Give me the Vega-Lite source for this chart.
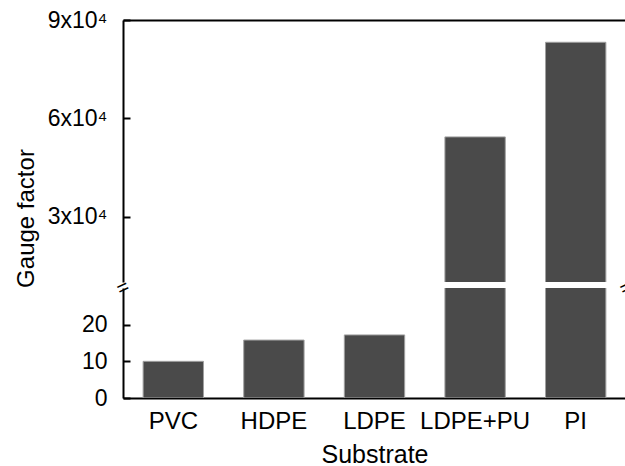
{
  "$schema": "https://vega.github.io/schema/vega-lite/v6.json",
  "padding": {"left": 14, "top": 9, "right": 0, "bottom": 0},
  "bounds": "flush",
  "spacing": 6,
  "config": {
    "font": "Liberation Sans",
    "view": {"stroke": null},
    "axis": {
      "domainColor": "black", "domainWidth": 2,
      "tickColor": "black", "tickWidth": 2,
      "labelColor": "black", "titleColor": "black",
      "labelFontSize": 23, "titleFontSize": 24, "titleFontWeight": "normal",
      "grid": false
    }
  },
  "datasets": {
    "gauge": [
      {"Substrate": "PVC", "GaugeFactor": 10},
      {"Substrate": "HDPE", "GaugeFactor": 15.8},
      {"Substrate": "LDPE", "GaugeFactor": 17.2},
      {"Substrate": "LDPE+PU", "GaugeFactor": 54300},
      {"Substrate": "PI", "GaugeFactor": 83200}
    ],
    "breakLeft": [{"Substrate": "PVC", "BreakAt": 30}],
    "breakRight": [{"Substrate": "PI", "BreakAt": 30}]
  },
  "vconcat": [
    {
      "width": 503,
      "height": 262,
      "data": {"name": "gauge"},
      "mark": {"type": "bar", "clip": true, "fill": "#4a4a4a", "stroke": "#a0a0a0", "strokeWidth": 1},
      "encoding": {
        "x": {
          "field": "Substrate", "type": "nominal",
          "sort": ["PVC", "HDPE", "LDPE", "LDPE+PU", "PI"],
          "scale": {"paddingInner": 0.4, "paddingOuter": 0.2},
          "axis": {"orient": "top", "labels": false, "ticks": false, "title": null}
        },
        "y": {
          "field": "GaugeFactor", "type": "quantitative",
          "scale": {"domain": [10000, 90000], "zero": false, "nice": false},
          "axis": {
            "values": [30000, 60000, 90000],
            "labelExpr": "(datum.value / 10000) + 'x10⁴'",
            "tickSize": -7, "labelPadding": 23,
            "title": "Gauge factor", "titleY": 198, "titleX": -90,
            "titleBaseline": "alphabetic", "titleAngle": -90
          }
        }
      }
    },
    {
      "width": 503,
      "height": 110,
      "layer": [
        {
          "data": {"name": "gauge"},
          "mark": {"type": "bar", "clip": true, "fill": "#4a4a4a", "stroke": "#a0a0a0", "strokeWidth": 1},
          "encoding": {
            "x": {
              "field": "Substrate", "type": "nominal",
              "sort": ["PVC", "HDPE", "LDPE", "LDPE+PU", "PI"],
              "scale": {"paddingInner": 0.4, "paddingOuter": 0.2},
              "axis": {"orient": "bottom", "ticks": false, "labelAngle": 0, "labelFontSize": 24, "labelPadding": 11, "title": "Substrate", "titleFontSize": 25, "titlePadding": 9}
            },
            "y": {
              "field": "GaugeFactor", "type": "quantitative",
              "scale": {"domain": [0, 30], "nice": false},
              "axis": {"values": [0, 10, 20], "tickSize": -7, "labelPadding": 23, "title": null}
            }
          }
        },
        {
          "data": {"name": "breakLeft"},
          "mark": {"type": "text", "text": "=", "fontSize": 20, "angle": -25, "color": "black", "baseline": "middle", "align": "center"},
          "encoding": {
            "x": {"field": "Substrate", "type": "nominal", "sort": ["PVC", "HDPE", "LDPE", "LDPE+PU", "PI"], "bandPosition": -0.333},
            "y": {"field": "BreakAt", "type": "quantitative"}
          }
        },
        {
          "data": {"name": "breakRight"},
          "mark": {"type": "text", "text": "=", "fontSize": 20, "angle": -25, "color": "black", "baseline": "middle", "align": "center"},
          "encoding": {
            "x": {"field": "Substrate", "type": "nominal", "sort": ["PVC", "HDPE", "LDPE", "LDPE+PU", "PI"], "bandPosition": 1.333},
            "y": {"field": "BreakAt", "type": "quantitative"}
          }
        }
      ]
    }
  ]
}
